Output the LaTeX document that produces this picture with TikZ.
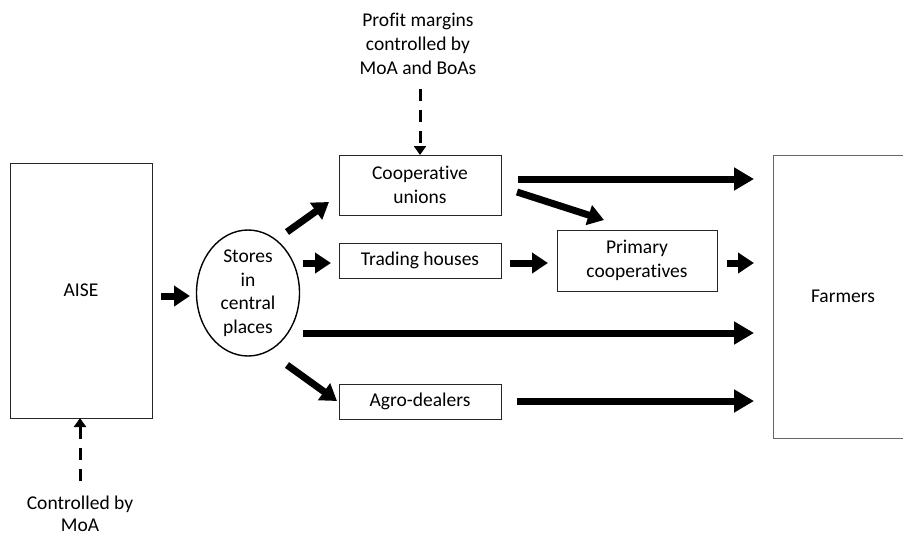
\documentclass[tikz,border=0pt]{standalone}
\usepackage{fontspec}
\setmainfont{Carlito}[Ligatures={NoCommon}]
\usetikzlibrary{arrows.meta,shapes.geometric}
\begin{document}
\begin{tikzpicture}[x=1pt,y=-1pt,
  every node/.style={font=\fontsize{19.5}{24}\selectfont, align=center, inner sep=0pt},
  box/.style={draw=black!85, line width=1pt},
  big/.style={line width=7pt, -{Triangle[length=20pt,width=22pt]}},
  small/.style={line width=7pt, -{Triangle[length=16pt,width=20pt]}},
  dasharrow/.style={line width=3pt, dash pattern=on 12pt off 9pt, -{Triangle[length=9pt,width=12pt]}}
]
\useasboundingbox (0,0) rectangle (903,536);
\clip (0,0) rectangle (903,536);
% boxes
\node[box, minimum width=142pt, minimum height=255pt] (aise) at (81,290.5) {AISE};
\node[box, draw=black!60, minimum width=140pt, minimum height=283pt] (farm) at (843,296.5) {Farmers};
\node[draw, line width=1.4pt, ellipse, minimum width=103pt, minimum height=126pt] (st) at (248,293) {};
\node[font=\fontsize{19.5}{23.5}\selectfont] (sttext) at (248,293) {Stores\\in\\central\\places};
\node[box, minimum width=162pt, minimum height=60pt] (cu) at (420,185) {Cooperative\\unions};
\node[box, minimum width=162pt, minimum height=35pt] (th) at (420,260.5) {Trading houses};
\node[box, minimum width=162pt, minimum height=35pt] (ad) at (420,401.5) {Agro-dealers};
\node[box, minimum width=160pt, minimum height=61pt] (pc) at (637,260.5) {Primary\\cooperatives};
\node (pm) at (418,44) {Profit margins\\controlled by\\MoA and BoAs};
\node[font=\fontsize{19.5}{22}\selectfont] (cm) at (80,514) {Controlled by\\MoA};
% coordinates
\coordinate (a1) at (161,296); \coordinate (a2) at (190,296);
\coordinate (b1) at (287,232); \coordinate (b2) at (329,202);
\coordinate (c1) at (303,263); \coordinate (c2) at (331,263);
\coordinate (d1) at (303,333); \coordinate (d2) at (754,333);
\coordinate (e1) at (287,365); \coordinate (e2) at (337,401);
\coordinate (f1) at (510,263); \coordinate (f2) at (548,263);
\coordinate (g1) at (518,179); \coordinate (g2) at (754,179);
\coordinate (h1) at (517,192); \coordinate (h2) at (604,220);
\coordinate (i1) at (727,263); \coordinate (i2) at (754,263);
\coordinate (j1) at (517,401); \coordinate (j2) at (754,401);
\coordinate (k1) at (420,89); \coordinate (k2) at (420,155);
\coordinate (l1) at (80,481); \coordinate (l2) at (80,418);
% arrows
\draw[small] (a1) -- (a2);
\draw[small] (b1) -- (b2);
\draw[small] (c1) -- (c2);
\draw[big] (d1) -- (d2);
\draw[small] (e1) -- (e2);
\draw[small] (f1) -- (f2);
\draw[big] (g1) -- (g2);
\draw[small] (h1) -- (h2);
\draw[small] (i1) -- (i2);
\draw[big] (j1) -- (j2);
\draw[dasharrow] (k1) -- (k2);
\draw[dasharrow] (l1) -- (l2);
\end{tikzpicture}
\end{document}
